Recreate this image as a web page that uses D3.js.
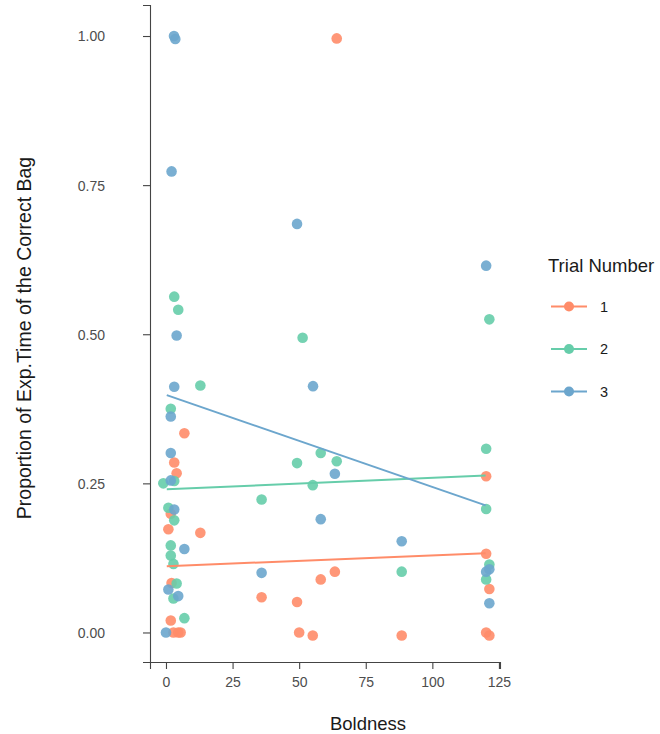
<!DOCTYPE html>
<html>
<head>
<meta charset="utf-8">
<script src="https://cdn.jsdelivr.net/npm/d3@7"></script>
<style>
    body { margin: 0; background: #fff; }
    svg { font-family: "Liberation Sans", Arial, sans-serif; }
    .axis-label { font-size: 18.5px; fill: #1a1a1a; }
    .tick text { font-size: 14px; fill: #4d4d4d; }
    .tick line, .domain { stroke: #444; }
</style>
</head>
<body>
<div id="scatterplot"></div>
<script>
// trial 1 (orange)
var trial1_x = [64.1, 6.9, 3.1, 4.0, 1.8, 0.9, 12.9, 2.1, 1.8, 2.8, 4.6, 5.5,
    120.2, 120.2, 63.4, 58.1, 121.4, 35.9, 49.2, 50.0, 55.1, 88.5, 120.2, 121.4];
var trial1_y = [0.996, 0.334, 0.285, 0.267, 0.199, 0.173, 0.167, 0.083, 0.020, 0.0, 0.0, 0.0,
    0.262, 0.132, 0.102, 0.089, 0.073, 0.059, 0.051, 0.0, -0.005, -0.005, 0.0, -0.005];

// trial 2 (green)
var trial2_x = [3.1, 4.6, 12.9, 1.8, -1.0, 3.1, 0.9, 3.1, 1.8, 1.8, 2.8, 4.0, 2.8, 6.9,
    121.4, 51.3, 120.2, 58.1, 49.2, 64.1, 55.1, 35.9, 120.2, 121.4, 88.5, 120.2];
var trial2_y = [0.563, 0.541, 0.414, 0.375, 0.250, 0.254, 0.209, 0.188, 0.146, 0.129, 0.115, 0.082, 0.057, 0.024,
    0.525, 0.494, 0.308, 0.301, 0.284, 0.287, 0.247, 0.223, 0.207, 0.114, 0.102, 0.089];

// trial 3 (blue)
var trial3_x = [3.0, 3.5, 2.1, 4.0, 3.1, 1.8, 1.8, 1.8, 3.1, 6.9, 0.9, 4.6, 0.0,
    49.2, 120.2, 55.2, 63.4, 58.1, 88.5, 120.2, 121.4, 35.9, 121.4];
var trial3_y = [1.000, 0.995, 0.773, 0.498, 0.412, 0.362, 0.301, 0.255, 0.206, 0.140, 0.072, 0.061, 0.0,
    0.685, 0.615, 0.413, 0.266, 0.190, 0.153, 0.102, 0.106, 0.100, 0.049];

// fitted trend lines, [start, end]
var trend_x = [0.3, 120];
var trend1_y = [0.111, 0.133];
var trend2_y = [0.240, 0.263];
var trend3_y = [0.398, 0.213];

var trial_names = ["1", "2", "3"];
var trial_colors = ["#FF8C69", "#66CDAA", "#6CA6CD"];
var x_ticks = [0, 25, 50, 75, 100, 125];
var y_ticks = [0, 0.25, 0.5, 0.75, 1];

var width = 660;
var height = 734;
var panel = { left: 150, right: 500, top: 5, bottom: 662 };

var svg = d3.select("#scatterplot")
    .append("svg")
    .attr("width", width)
    .attr("height", height);

var x_scale = d3.scaleLinear().domain([-6.0, 125.4]).range([panel.left, panel.right]);
var y_scale = d3.scaleLinear().domain([-0.0495, 1.052]).range([panel.bottom, panel.top]);

var series = [
    { xs: trial1_x, ys: trial1_y, trend: trend1_y },
    { xs: trial2_x, ys: trial2_y, trend: trend2_y },
    { xs: trial3_x, ys: trial3_y, trend: trend3_y }
];

// points
var plot_area = svg.append("g").attr("id", "plot-area");
series.forEach(function (s, i) {
    plot_area.append("g")
        .selectAll("circle")
        .data(s.xs.map(function (d, j) { return [d, s.ys[j]]; }))
        .enter().append("circle")
        .attr("cx", function (d) { return x_scale(d[0]); })
        .attr("cy", function (d) { return y_scale(d[1]); })
        .attr("r", 5.3)
        .attr("fill", trial_colors[i])
        .attr("fill-opacity", 0.9);
});

// trend lines
var line = d3.line()
    .x(function (d) { return x_scale(d[0]); })
    .y(function (d) { return y_scale(d[1]); });

series.forEach(function (s, i) {
    plot_area.append("path")
        .datum(trend_x.map(function (d, j) { return [d, s.trend[j]]; }))
        .attr("d", line)
        .attr("fill", "none")
        .attr("stroke", trial_colors[i])
        .attr("stroke-width", 2);
});

// axes
var x_axis = svg.append("g")
    .attr("transform", "translate(0," + panel.bottom + ")")
    .call(d3.axisBottom(x_scale).tickValues(x_ticks).tickSizeOuter(0).tickSize(7).tickPadding(8));
var y_axis = svg.append("g")
    .attr("transform", "translate(" + panel.left + ",0)")
    .call(d3.axisLeft(y_scale).tickValues(y_ticks).tickFormat(d3.format(".2f")).tickSizeOuter(0).tickSize(7));

[x_axis, y_axis].forEach(function (a) {
    a.selectAll(".domain").attr("stroke-width", 1.1);
    a.selectAll(".tick line").attr("stroke-width", 1.1);
    a.selectAll(".tick text").attr("font-family", null).attr("font-size", null);
});
y_axis.selectAll(".tick text").attr("x", -45).attr("dy", "0.35em");

svg.append("text")
    .attr("class", "axis-label")
    .attr("text-anchor", "middle")
    .attr("transform", "translate(368,730)")
    .text("Boldness");

svg.append("text")
    .attr("class", "axis-label")
    .attr("text-anchor", "middle")
    .style("font-size", "19.5px")
    .attr("transform", "translate(31,338) rotate(-90)")
    .text("Proportion of Exp.Time of the Correct Bag");

// legend
var legend = svg.append("g").attr("id", "legend");
legend.append("text")
    .attr("class", "axis-label")
    .attr("x", 548)
    .attr("y", 272)
    .text("Trial Number");

var key_y = d3.scalePoint().domain(trial_names).range([306.5, 391.5]);
var keys = legend.selectAll(".key")
    .data(trial_names)
    .enter().append("g")
    .attr("class", "key")
    .attr("transform", function (d) { return "translate(0," + key_y(d) + ")"; });
keys.append("line")
    .attr("x1", 551).attr("x2", 587)
    .attr("stroke", function (d, i) { return trial_colors[i]; })
    .attr("stroke-width", 2);
keys.append("circle")
    .attr("cx", 569).attr("r", 5)
    .attr("fill", function (d, i) { return trial_colors[i]; });
keys.append("text")
    .attr("x", 600)
    .attr("dy", "0.36em")
    .attr("font-size", 14.5)
    .attr("fill", "#1a1a1a")
    .text(function (d) { return d; });
</script>
</body>
</html>
